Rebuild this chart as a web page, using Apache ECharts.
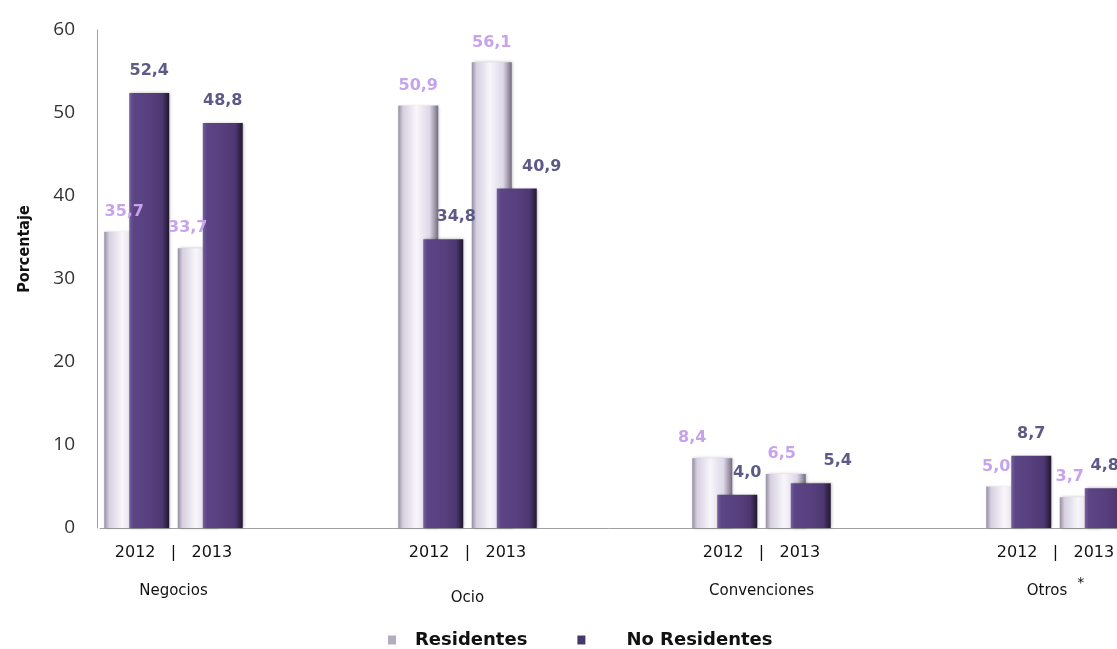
<!DOCTYPE html>
<html>
<head>
<meta charset="utf-8">
<script src="https://cdn.jsdelivr.net/npm/echarts@6/dist/echarts.min.js"></script>
<style>
  html, body { margin: 0; padding: 0; background: #ffffff; }
  #chart { width: 1117px; height: 649px; }
</style>
</head>
<body>
<div id="chart"></div>
<script>
// ---- data ----
const groups = ['Negocios', 'Ocio', 'Convenciones', 'Otros'];
const years = ['2012', '2013'];
const residentes = [35.7, 33.7, 50.9, 56.1, 8.4, 6.5, 5.0, 3.7];
const noResidentes = [52.4, 48.8, 34.8, 40.9, 4.0, 5.4, 8.7, 4.8];
const seriesNames = ['Residentes', 'No Residentes'];
const yMin = 0, yMax = 60, yStep = 10;

// ---- label nudges (style only) ----
const resLabelDx = [0, -10, 0, 0, -20, -4, -10, -10];
const noResLabelDx = [0, 0, 13, 25, 10, 27, 0, 0];

// ---- build slots: two year-slots per group, two empty slots between groups ----
const slots = [];
const resData = [];
const noResData = [];
const fmt = v => v.toFixed(1).replace('.', ',');
let k = 0;
groups.forEach((g, gi) => {
  years.forEach(y => {
    slots.push(g + ' ' + y);
    resData.push({ value: residentes[k], label: { offset: [resLabelDx[k], 0] } });
    noResData.push({ value: noResidentes[k], label: { offset: [noResLabelDx[k], 0] } });
    k++;
  });
  if (gi < groups.length - 1) {
    for (let e = 0; e < 2; e++) {
      slots.push('gap' + gi + '_' + e);
      resData.push(null);
      noResData.push(null);
    }
  }
});
// group label axis: one category per pair of slots
const groupSlots = [];
groups.forEach((g, gi) => {
  groupSlots.push(g);
  if (gi < groups.length - 1) groupSlots.push('');
});

const chart = echarts.init(document.getElementById('chart'), null, { renderer: 'canvas' });
const slotW = 73.5;

const resGrad = new echarts.graphic.LinearGradient(0, 0, 1, 0, [
  { offset: 0, color: '#958ea2' },
  { offset: 0.12, color: '#d6d0e0' },
  { offset: 0.45, color: '#f8f6fb' },
  { offset: 0.78, color: '#ded8e7' },
  { offset: 0.9, color: '#a69eb1' },
  { offset: 1, color: '#736b7e' }
]);
const noResGrad = new echarts.graphic.LinearGradient(0, 0, 1, 0, [
  { offset: 0, color: '#76609c' },
  { offset: 0.1, color: '#5c4585' },
  { offset: 0.5, color: '#58407f' },
  { offset: 0.82, color: '#4d3771' },
  { offset: 0.93, color: '#312347' },
  { offset: 1, color: '#221932' }
]);

const labelFamily = 'DejaVu Sans';

chart.setOption({
  backgroundColor: '#ffffff',
  animation: false,
  grid: {
    left: 100,
    top: 30,
    bottom: 121,
    width: slotW * slots.length,
    outerBoundsMode: 'none',
    containLabel: false
  },
  legend: {
    left: 383,
    top: 626,
    itemWidth: 8,
    itemHeight: 9,
    itemGap: 50,
    icon: 'rect',
    data: [
      { name: seriesNames[0], itemStyle: { color: '#b4acbd' } },
      { name: seriesNames[1], itemStyle: { color: '#47386a' } }
    ],
    formatter: n => (n === seriesNames[1] ? '{sp|}' : '') + n,
    textStyle: {
      fontFamily: 'DejaVu Sans',
      fontWeight: 'bold',
      fontSize: 18,
      color: '#111111',
      padding: [0, 0, 0, 14],
      rich: { sp: { width: 22 } }
    }
  },
  xAxis: [
    {
      type: 'category',
      data: slots,
      position: 'bottom',
      axisLine: { show: true, lineStyle: { color: '#a0a0a0', width: 1 } },
      axisTick: { show: false },
      axisLabel: { show: false },
      splitLine: { show: false }
    },
    {
      type: 'category',
      data: groupSlots,
      position: 'bottom',
      axisLine: { show: false },
      axisTick: { show: false },
      splitLine: { show: false },
      axisLabel: {
        interval: 0,
        margin: 13,
        formatter: function (v) {
          if (!v) return '';
          const nameStyle = v === 'Ocio' ? 'co' : 'c';
          let s = '{y|' + years[0] + '   |   ' + years[1] + '}\n{' + nameStyle + '|' + v + '}';
          if (v === 'Otros') s += '{s|*}';
          return s;
        },
        rich: {
          y: { fontFamily: labelFamily, fontSize: 16, color: '#111111', lineHeight: 24 },
          c: { fontFamily: labelFamily, fontSize: 15, color: '#111111', lineHeight: 52 },
          co: { fontFamily: labelFamily, fontSize: 15, color: '#111111', lineHeight: 66 },
          s: { fontFamily: labelFamily, fontSize: 14, color: '#111111', lineHeight: 52, padding: [0, 0, 15, 10] }
        }
      }
    }
  ],
  yAxis: {
    type: 'value',
    min: yMin,
    max: yMax,
    interval: yStep,
    offset: 3,
    name: 'Porcentaje',
    nameLocation: 'middle',
    nameGap: 64,
    nameRotate: 90,
    nameTextStyle: {
      fontFamily: "'Liberation Sans Narrow', 'DejaVu Sans Condensed', 'Liberation Sans', sans-serif",
      fontWeight: 'bold',
      fontSize: 16,
      color: '#111111',
      padding: [0, 0, 0, 60]
    },
    axisLine: { show: true, lineStyle: { color: '#a0a0a0', width: 1 } },
    axisTick: { show: false },
    splitLine: { show: false },
    axisLabel: {
      fontFamily: 'Open Sans',
      fontSize: 19,
      color: '#333333',
      margin: 22
    }
  },
  series: [
    {
      name: seriesNames[0],
      type: 'bar',
      xAxisIndex: 0,
      data: resData,
      barWidth: 40,
      barGap: '-37.5%',
      itemStyle: {
        color: resGrad,
        shadowColor: 'rgba(0,0,0,0.25)',
        shadowBlur: 3,
        shadowOffsetX: 1
      },
      label: {
        show: true,
        position: 'top',
        distance: 12,
        formatter: p => fmt(p.value),
        fontFamily: labelFamily,
        fontWeight: 'bold',
        fontSize: 16,
        color: '#c7a3ee'
      }
    },
    {
      name: seriesNames[1],
      type: 'bar',
      xAxisIndex: 0,
      data: noResData,
      barWidth: 40,
      barGap: '-37.5%',
      itemStyle: {
        color: noResGrad,
        shadowColor: 'rgba(0,0,0,0.3)',
        shadowBlur: 3,
        shadowOffsetX: 1
      },
      label: {
        show: true,
        position: 'top',
        distance: 14,
        formatter: p => fmt(p.value),
        fontFamily: labelFamily,
        fontWeight: 'bold',
        fontSize: 16,
        color: '#5d5a88'
      }
    }
  ]
});
</script>
</body>
</html>
